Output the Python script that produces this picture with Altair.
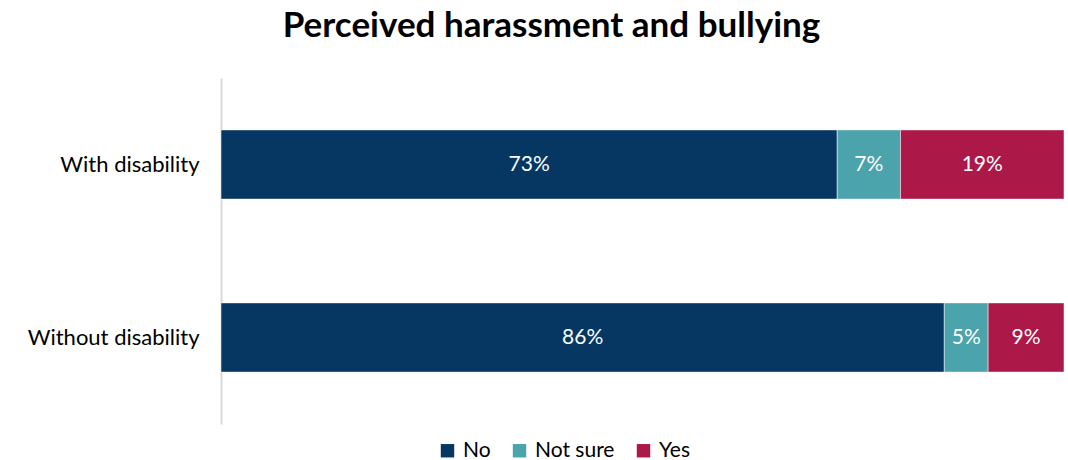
import altair as alt
import pandas as pd

groups = ["With disability", "Without disability"]
responses = ["No", "Not sure", "Yes"]
colors = ["#063763", "#4BA3AB", "#AC1848"]
# bar shares (percent)
with_vals = [73.1, 7.5, 19.4]
without_vals = [85.8, 5.2, 9.0]
# printed labels
with_labels = ["73%", "7%", "19%"]
without_labels = ["86%", "5%", "9%"]

rows = []
for g, vals, labs in [(groups[0], with_vals, with_labels), (groups[1], without_vals, without_labels)]:
    for i, (r, v, l) in enumerate(zip(responses, vals, labs)):
        rows.append({"group": g, "response": r, "value": v, "label": l, "order": i})
df = pd.DataFrame(rows)

FONT = "Lato"

base = alt.Chart(df).transform_stack(
    stack="value", as_=["x0", "x1"], groupby=["group"], sort=[alt.SortField("order")]
).transform_calculate(mid="(datum.x0 + datum.x1) / 2")

y_enc = alt.Y(
    "group:N",
    sort=groups,
    title=None,
    scale=alt.Scale(paddingInner=0.6, paddingOuter=0.3),
    axis=alt.Axis(
        labelFontSize=22,
        labelFont=FONT,
        labelColor="#000000",
        labelPadding=22,
        ticks=False,
        domainColor="#d9d9d9",
        domainWidth=2,
    ),
)

bars = base.mark_bar(stroke="white", strokeWidth=0.5).encode(
    x=alt.X("x0:Q", scale=alt.Scale(domain=[0, 100], nice=False), axis=None),
    x2="x1:Q",
    y=y_enc,
    color=alt.Color(
        "response:N",
        scale=alt.Scale(domain=responses, range=colors),
        sort=responses,
        legend=alt.Legend(
            title=None,
            orient="none",
            direction="horizontal",
            legendX=216,
            legendY=362,
            symbolType="square",
            symbolSize=180,
            symbolStrokeWidth=0,
            labelFontSize=21,
            labelFont=FONT,
            labelColor="#000000",
            columnPadding=18,
            labelOffset=5,
        ),
    ),
)

texts = base.mark_text(color="white", fontSize=21, font=FONT, align="center", baseline="middle").encode(
    x=alt.X("mid:Q", scale=alt.Scale(domain=[0, 100], nice=False)),
    y=alt.Y("group:N", sort=groups),
    text="label:N",
)

chart = (
    alt.layer(bars, texts)
    .properties(
        width=843,
        height=346,
        background="white",
        autosize=alt.AutoSizeParams(type="none"),
        padding={"left": 221, "top": 78, "right": 4, "bottom": 36},
        title=alt.Title(
            "Perceived harassment and bullying",
            fontSize=35,
            font=FONT,
            fontWeight="bold",
            color="#000000",
            anchor="middle",
            dx=-91,
            offset=34,
        ),
    )
    .configure_view(strokeWidth=0, stroke="transparent")
)

chart.save("out.html", embed_options={"renderer": "svg", "actions": False})
